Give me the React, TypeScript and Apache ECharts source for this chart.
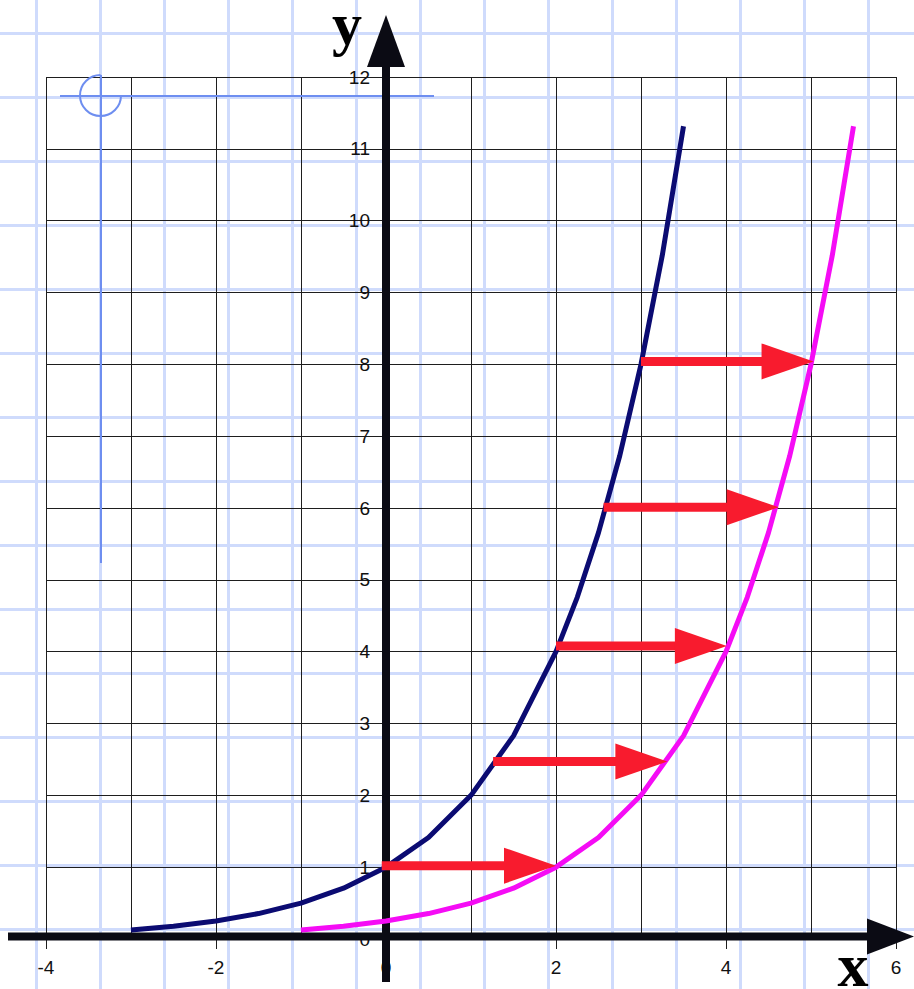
import React, { useEffect, useRef } from "react";
import * as echarts from "echarts";

// y = 2^x (navy)
const navyX = [-3, -2.5, -2, -1.5, -1, -0.5, 0, 0.5, 1, 1.5, 2, 2.25, 2.5, 2.75, 3, 3.25, 3.5];
const navyY = [0.125, 0.177, 0.25, 0.354, 0.5, 0.707, 1, 1.414, 2, 2.828, 4, 4.757, 5.657, 6.727, 8, 9.514, 11.314];
// y = 2^(x-2) (magenta)
const magentaX = [-1, -0.5, 0, 0.5, 1, 1.5, 2, 2.5, 3, 3.5, 4, 4.25, 4.5, 4.75, 5, 5.25, 5.5];
const magentaY = [0.125, 0.177, 0.25, 0.354, 0.5, 0.707, 1, 1.414, 2, 2.828, 4, 4.757, 5.657, 6.727, 8, 9.514, 11.314];
// red shift arrows
const arrowStartX = [-0.05, 1.26, 2.0, 2.56, 3.0];
const arrowEndX = [2.0, 3.31, 4.01, 4.62, 5.03];
const arrowY = [1.02, 2.47, 4.08, 6.01, 8.04];
// axis labels
const xLabelValues = [-4, -2, 0, 2, 4, 6];

export default function App() {
  const ref = useRef<HTMLDivElement>(null);
  useEffect(() => {
    document.body.style.margin = "0";
    const chart = echarts.init(ref.current!, undefined, { renderer: "svg" });
    const red = "#f81b2e";
    const gridColor = "#1e1e1e";
    const labelStyle = { color: "#111", fontSize: 19, fontFamily: "Liberation Sans, Arial, sans-serif" };
    chart.setOption({
      animation: false,
      backgroundColor: "transparent",
      grid: { left: 46, right: 18, top: 77, bottom: 50, containLabel: false },
      xAxis: {
        type: "value",
        min: -4,
        max: 6,
        interval: 2,
        axisLine: { show: true, onZero: true, lineStyle: { color: "rgba(0,0,0,0)" } },
        axisTick: { show: true, length: 10, lineStyle: { color: gridColor, width: 1 } },
        axisLabel: {
          ...labelStyle,
          margin: 19,
          formatter: (v: number) => (xLabelValues.indexOf(v) >= 0 ? String(v) : ""),
        },
        splitLine: { show: true, lineStyle: { color: gridColor, width: 1 } },
        minorTick: { show: false, splitNumber: 2 },
        minorSplitLine: { show: true, lineStyle: { color: gridColor, width: 1 } },
      },
      yAxis: {
        type: "value",
        min: 0,
        max: 12,
        interval: 1,
        offset: 0,
        axisLine: { show: true, onZero: true, lineStyle: { color: "rgba(0,0,0,0)" } },
        axisTick: { show: false },
        axisLabel: { ...labelStyle, margin: 16 },
        splitLine: { show: true, lineStyle: { color: gridColor, width: 1 } },
      },
      series: [
        {
          type: "line",
          data: navyX.map((x, i) => [x, navyY[i]]),
          symbol: "none",
          smooth: false,
          lineStyle: { color: "#0b0b72", width: 5 },
          z: 2,
        },
        {
          type: "line",
          data: magentaX.map((x, i) => [x, magentaY[i]]),
          symbol: "none",
          smooth: false,
          lineStyle: { color: "#f50cf5", width: 5 },
          z: 2,
        },
        {
          type: "custom",
          z: 3,
          clip: false,
          data: arrowStartX.map((x, i) => [x, arrowEndX[i], arrowY[i]]),
          encode: { x: [0, 1], y: 2 },
          renderItem: (params: any, api: any) => {
            const s = api.coord([api.value(0), api.value(2)]);
            const e = api.coord([api.value(1), api.value(2)]);
            const headLen = 52;
            const headHalf = 18;
            const shaftHalf = 4.5;
            return {
              type: "group",
              children: [
                {
                  type: "rect",
                  shape: { x: s[0], y: s[1] - shaftHalf, width: e[0] - headLen - s[0] + 1, height: shaftHalf * 2 },
                  style: { fill: red },
                },
                {
                  type: "polygon",
                  shape: {
                    points: [
                      [e[0] - headLen, s[1] - headHalf],
                      [e[0], s[1]],
                      [e[0] - headLen, s[1] + headHalf],
                    ],
                  },
                  style: { fill: red },
                },
              ],
            };
          },
        },
      ],
    });

    const o = chart.convertToPixel({ gridIndex: 0 }, [0, 0]) as number[];
    const left = chart.convertToPixel({ gridIndex: 0 }, [-4, 0]) as number[];
    const axY = o[1] - 2.5;
    const axX = o[0];
    const axisColor = "#0b0b14";
    const blue = "#6e8ef0";
    chart.setOption({
      yAxis: { offset: -(o[0] - left[0]) },
      graphic: [
        // decoration at top-left
        {
          type: "arc",
          z: 1,
          shape: { cx: 100.5, cy: 95.5, r: 20.5, startAngle: 0, endAngle: Math.PI * 1.5, clockwise: true },
          style: { stroke: blue, lineWidth: 2, fill: "none" },
        },
        {
          type: "line",
          z: 1,
          shape: { x1: 60, y1: 96, x2: 434, y2: 96 },
          style: { stroke: blue, lineWidth: 2 },
        },
        {
          type: "line",
          z: 1,
          shape: { x1: 101, y1: 75, x2: 101, y2: 563 },
          style: { stroke: blue, lineWidth: 2 },
        },
        // thick axes
        {
          type: "line",
          z: 1,
          shape: { x1: 8, y1: axY, x2: 870, y2: axY },
          style: { stroke: axisColor, lineWidth: 8 },
        },
        {
          type: "polygon",
          z: 1,
          shape: { points: [[867, axY - 18], [914, axY], [867, axY + 18]] },
          style: { fill: axisColor },
        },
        {
          type: "line",
          z: 1,
          shape: { x1: axX, y1: 982, x2: axX, y2: 64 },
          style: { stroke: axisColor, lineWidth: 8 },
        },
        {
          type: "polygon",
          z: 1,
          shape: { points: [[axX - 19, 67], [axX, 15], [axX + 19, 67]] },
          style: { fill: axisColor },
        },
        {
          type: "text",
          z: 4,
          style: {
            text: "y",
            x: 347,
            y: 24,
            fill: "#000",
            font: "bold 60px 'Liberation Serif', 'DejaVu Serif', serif",
            lineHeight: 46,
            align: "center",
            textAlign: "center",
            verticalAlign: "middle",
            textVerticalAlign: "middle",
          },
        },
        {
          type: "text",
          z: 4,
          style: {
            text: "x",
            x: 853,
            y: 965,
            fill: "#000",
            font: "bold 62px 'Liberation Serif', 'DejaVu Serif', serif",
            lineHeight: 46,
            align: "center",
            textAlign: "center",
            verticalAlign: "middle",
            textVerticalAlign: "middle",
          },
        },
      ],
    });
    return () => chart.dispose();
  }, []);
  return (
    <div
      ref={ref}
      style={{
        position: "absolute",
        left: 0,
        top: 0,
        width: 914,
        height: 989,
        backgroundColor: "#fff",
        backgroundImage:
          "linear-gradient(to right, #cfdbfc 3px, transparent 3px), linear-gradient(to bottom, #cfdbfc 3px, transparent 3px)",
        backgroundSize: "64px 64px",
        backgroundPosition: "35px 32px",
      }}
    />
  );
}
